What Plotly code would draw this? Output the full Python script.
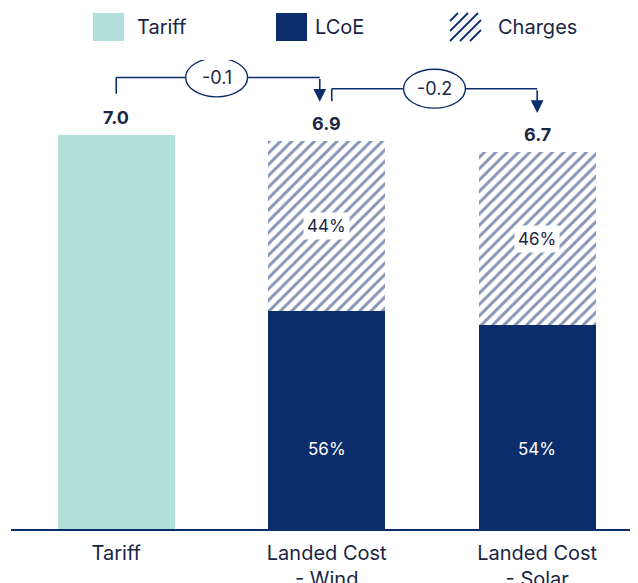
import plotly.graph_objects as go

# ---- data ----
categories = ["Tariff", "Landed Cost<br>- Wind", "Landed Cost<br>- Solar"]
totals = [7.0, 6.9, 6.7]
lcoe_pct = [None, 56, 54]
charges_pct = [None, 44, 46]
deltas = ["-0.1", "-0.2"]
legend_names = ["Tariff", "LCoE", "Charges"]

TEAL = "#B3DFDD"
NAVY = "#0C2D6B"
TXT = "#1B2545"
FONT = "Inter"

# page body has an 8px margin -> compensate
OFF = 8
W, H = 638 - OFF, 583 - OFF
ML, MR, MT = 11 - OFF, 0, 60 - OFF
PLOT_BOTTOM = 529 - OFF
MB = H - PLOT_BOTTOM
plot_h = H - MT - MB
Y_MAX = plot_h / 56.3
BAR_W = 0.556

x_idx = list(range(len(categories)))
lcoe_vals = [None] + [totals[i] * lcoe_pct[i] / 100 for i in (1, 2)]
charge_vals = [None] + [totals[i] * charges_pct[i] / 100 for i in (1, 2)]

fig = go.Figure()
fig.add_trace(go.Bar(x=[0], y=[totals[0]], width=BAR_W, marker=dict(color=TEAL, line=dict(width=0)),
                     name="Tariff", showlegend=False, hoverinfo="skip"))
fig.add_trace(go.Bar(x=[1, 2], y=lcoe_vals[1:], width=BAR_W, marker=dict(color=NAVY, line=dict(width=0)),
                     name="LCoE", showlegend=False, hoverinfo="skip"))
fig.add_trace(go.Bar(x=[1, 2], y=charge_vals[1:], width=BAR_W,
                     marker=dict(color="white", line=dict(width=0),
                                 pattern=dict(shape="/", fgcolor=NAVY, bgcolor="white", size=8, solidity=0.36)),
                     name="Charges", showlegend=False, hoverinfo="skip"))

annotations = []
shapes = []

# value labels
for i, v in enumerate(totals):
    annotations.append(dict(x=i, y=v, xref="x", yref="y", text=f"<b>{v:.1f}</b>", showarrow=False,
                            yanchor="bottom", yshift=5, font=dict(family=FONT, size=18, color=TXT)))

# percentage labels
for i in (1, 2):
    annotations.append(dict(x=i, y=1.42, xref="x", yref="y", text=f"{lcoe_pct[i]}%", showarrow=False,
                            font=dict(family=FONT, size=17, color="white")))
    annotations.append(dict(x=i, y=lcoe_vals[i] + charge_vals[i] / 2, xref="x", yref="y",
                            text=f"{charges_pct[i]}%", showarrow=False, bgcolor="white", borderpad=3,
                            font=dict(family=FONT, size=17, color=TXT)))

# brackets
brackets = [
    dict(x0=0.0, x1=0.967, ytop=8.02, ystart=7.73, ytip=7.59, cx=0.477),
    dict(x0=1.024, x1=2.0, ytop=7.82, ystart=7.60, ytip=7.39, cx=1.512),
]
for b, d in zip(brackets, deltas):
    ln = dict(color=NAVY, width=1.6)
    shapes.append(dict(type="line", xref="x", yref="y", x0=b["x0"], x1=b["x0"], y0=b["ystart"], y1=b["ytop"], line=ln))
    shapes.append(dict(type="line", xref="x", yref="y", x0=b["x0"], x1=b["x1"], y0=b["ytop"], y1=b["ytop"], line=ln))
    annotations.append(dict(x=b["x1"], y=b["ytip"], ax=b["x1"], ay=b["ytop"], xref="x", yref="y",
                            axref="x", ayref="y", text="", showarrow=True, arrowhead=2,
                            arrowsize=1.6, arrowwidth=1.6, arrowcolor=NAVY))
    shapes.append(dict(type="circle", xref="x", yref="y", x0=b["cx"] - 0.147, x1=b["cx"] + 0.147,
                       y0=b["ytop"] - 0.345, y1=b["ytop"] + 0.345, fillcolor="white",
                       line=dict(color=NAVY, width=1.4), layer="above"))
    annotations.append(dict(x=b["cx"], y=b["ytop"], xref="x", yref="y", text=d, showarrow=False,
                            font=dict(family=FONT, size=18, color=TXT)))

# manual legend (reference pixel -> paper)
def px(xp):
    return (xp - OFF - ML) / (W - ML - MR)

def py(yp):
    return (PLOT_BOTTOM - (yp - OFF)) / plot_h

sw_top, sw_bot = 13, 41
legend_x = [93, 276, 450]
text_x = [135, 313, 496]
shapes.append(dict(type="rect", xref="paper", yref="paper", x0=px(legend_x[0]), x1=px(legend_x[0] + 31),
                   y0=py(sw_bot), y1=py(sw_top), fillcolor=TEAL, line=dict(width=0)))
shapes.append(dict(type="rect", xref="paper", yref="paper", x0=px(legend_x[1]), x1=px(legend_x[1] + 31),
                   y0=py(sw_bot), y1=py(sw_top), fillcolor=NAVY, line=dict(width=0)))
# hatched swatch
hx0, hx1 = legend_x[2], legend_x[2] + 31
for k in range(-20, 31, 10):
    pts = []
    for y in range(sw_top, sw_bot + 1):
        xx = hx0 + k + (sw_bot - y)
        if hx0 <= xx <= hx1:
            pts.append((xx, y))
    if len(pts) >= 4:
        (xa, ya), (xb, yb) = pts[0], pts[-1]
        shapes.append(dict(type="line", xref="paper", yref="paper", x0=px(xa), y0=py(ya),
                           x1=px(xb), y1=py(yb), line=dict(color=NAVY, width=1.8)))
for name, tx in zip(legend_names, text_x):
    annotations.append(dict(x=px(tx), y=py(27), xref="paper", yref="paper", text=name, showarrow=False,
                            xanchor="left", yanchor="middle", font=dict(family=FONT, size=20, color=TXT)))

fig.update_layout(
    width=W, height=H, barmode="stack", plot_bgcolor="white", paper_bgcolor="white",
    margin=dict(l=ML, r=MR, t=MT, b=MB), showlegend=False,
    shapes=shapes, annotations=annotations,
    xaxis=dict(range=[-0.5, 2.479], tickmode="array", tickvals=x_idx, ticktext=categories,
               showline=True, linecolor=NAVY, linewidth=2, showgrid=False, zeroline=False,
               ticks="outside", ticklen=5, tickcolor="rgba(0,0,0,0)", automargin=False,
               tickfont=dict(family=FONT, size=20, color=TXT)),
    yaxis=dict(range=[0, Y_MAX], visible=False, showgrid=False, zeroline=False),
)

fig.write_html("out.html")
